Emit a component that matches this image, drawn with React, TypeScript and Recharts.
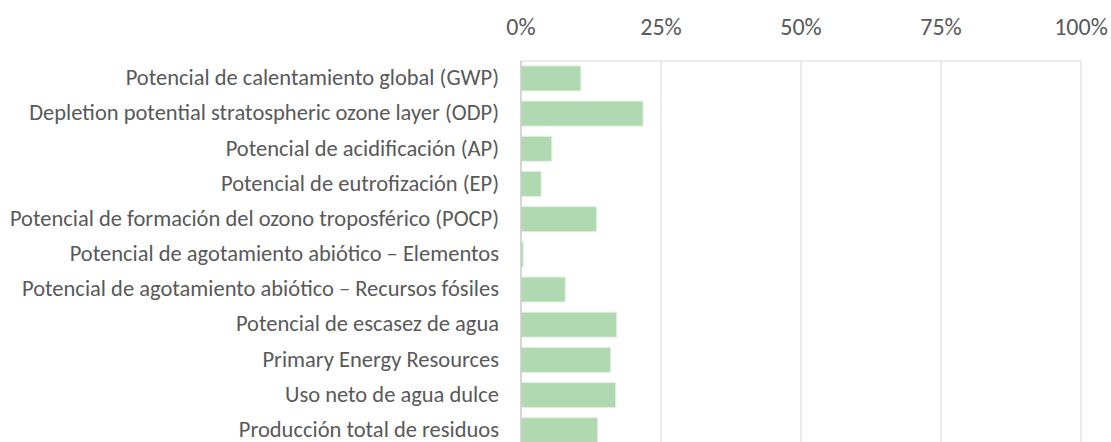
import React from "react";
import { BarChart, Bar, XAxis, YAxis, CartesianGrid } from "recharts";

const categories = [
  "Potencial de calentamiento global (GWP)",
  "Depletion potential stratospheric ozone layer (ODP)",
  "Potencial de acidificación (AP)",
  "Potencial de eutrofización (EP)",
  "Potencial de formación del ozono troposférico (POCP)",
  "Potencial de agotamiento abiótico – Elementos",
  "Potencial de agotamiento abiótico – Recursos fósiles",
  "Potencial de escasez de agua",
  "Primary Energy Resources",
  "Uso neto de agua dulce",
  "Producción total de residuos",
];

const values = [0.107, 0.218, 0.055, 0.036, 0.135, 0.004, 0.079, 0.171, 0.16, 0.169, 0.137];

const xTicks = [0, 0.25, 0.5, 0.75, 1];

const data = categories.map((name, i) => ({ name, value: values[i] }));

const FONT = "Carlito, Lato, sans-serif";

const XTick = (props: any) => {
  const { x, y, payload } = props;
  return (
    <text x={x} y={y} textAnchor="middle" fill="#595959" fontSize={24} fontFamily={FONT}>
      {`${Math.round(payload.value * 100)}%`}
    </text>
  );
};

const YTick = (props: any) => {
  const { x, y, payload } = props;
  return (
    <text x={x} y={y - 1.5} dy="0.36em" textAnchor="end" fill="#595959" fontSize={22.5} fontFamily={FONT}>
      {payload.value}
    </text>
  );
};

export default function App() {
  return (
    <div style={{ position: "absolute", left: 0, top: 0 }}>
      <BarChart
        width={1111}
        height={448}
        data={data}
        layout="vertical"
        margin={{ top: 0, right: 30, bottom: 0, left: 0 }}
        barCategoryGap="14%"
      >
        <CartesianGrid horizontal={false} stroke="#d9d9d9" strokeWidth={1} />
        <XAxis
          type="number"
          orientation="top"
          domain={[0, 1]}
          ticks={xTicks}
          axisLine={{ stroke: "#d9d9d9" }}
          tickLine={false}
          tickSize={0}
          tickMargin={26}
          height={61}
          tick={<XTick />}
        />
        <YAxis
          type="category"
          dataKey="name"
          width={521}
          axisLine={{ stroke: "#bfbfbf" }}
          tickLine={false}
          tickSize={0}
          tickMargin={22}
          interval={0}
          tick={<YTick />}
        />
        <Bar
          dataKey="value"
          fill="#b0d9b1"
          stroke="#e2f1e2"
          strokeWidth={1}
          isAnimationActive={false}
        />
      </BarChart>
    </div>
  );
}
